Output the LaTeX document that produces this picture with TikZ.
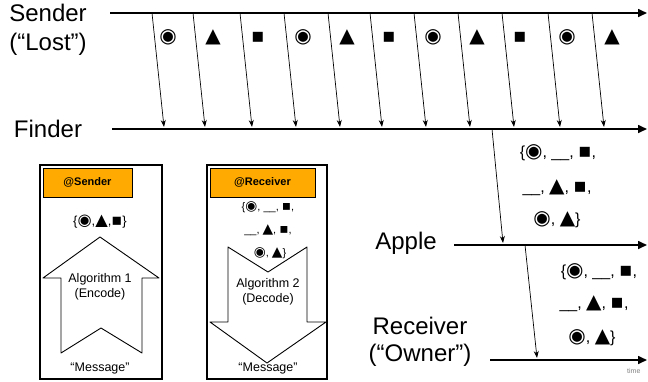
\documentclass[tikz,border=0pt]{standalone}
\usepackage{fontspec}
\setmainfont{Liberation Sans}
\newfontfamily\glyphfont{DejaVu Sans}[Scale=1.25]
\usetikzlibrary{arrows.meta}
\definecolor{hdrorange}{HTML}{FFAA00}

\tikzstyle{obj1}=[black, line width = 0.7pt, line join=round, line cap=round]
\tikzstyle{axis}=[black, line width = 1.6pt, -{Triangle[length=9pt, width=8pt]}]
\tikzstyle{msg}=[obj1, -{Stealth[length=7pt, width=5pt]}]

\begin{document}
\begin{tikzpicture}[
	x=1pt, y=-1pt,
	lab/.style={font=\fontsize{24}{29}\selectfont, align=center, inner sep=0pt},
	small/.style={font=\fontsize{12.5}{15}\selectfont, align=center, inner sep=0pt},
	setline/.style={font=\fontsize{16}{18}\selectfont, inner sep=0pt},
	hdr/.style={draw, line width=0.6pt, fill=hdrorange, minimum height=29pt, inner sep=0pt, font=\bfseries\fontsize{11}{13}\selectfont},
	frame/.style={black, line width=2.2pt},
	blockarrow/.style={obj1, line width=0.9pt, fill=white}
	]
	
	\useasboundingbox (0,0) rectangle (648,381);
	
	\def\bull{{\glyphfont ◉}}
	\def\tri{{\glyphfont ▲}}
	\def\sqr{{\glyphfont ▪}}
	\def\gap{\_\_}
	
	% Time lines of the four parties
	\node[lab] (sender) at (48,30) {Sender\\(“Lost”)};
	\node[lab] (finder) at (48,129) {Finder};
	\node[lab] (apple) at (406,243) {Apple};
	\node[lab, font=\fontsize{24}{27}\selectfont] (receiver) at (420,342) {Receiver\\(“Owner”)};
	
	\coordinate (s0) at (110,13);   \coordinate (s1) at (647,13);
	\coordinate (f0) at (112,129);  \coordinate (f1) at (647,129);
	\coordinate (a0) at (454,245);  \coordinate (a1) at (647,245);
	\coordinate (r0) at (490,360);  \coordinate (r1) at (647,360);
	
	\draw[axis] (s0) -- (s1);
	\draw[axis] (f0) -- (f1);
	\draw[axis] (a0) -- (a1);
	\draw[axis] (r0) -- (r1);
	
	\node[font=\fontsize{7}{8}\selectfont, text=gray, anchor=west, inner sep=0pt] (time) at (627,371) {time};
	
	% Broadcasts from sender to finder
	\foreach \t [count=\i] in {152,193,240,284,328,370,414,458,502,548,592} {
		\coordinate (top\i) at (\t,13);
		\coordinate (bot\i) at (\t+12,127);
		\draw[msg] (top\i) -- (bot\i);
	}
	
	\foreach \x/\s [count=\i] in {168/\bull, 213/\tri, 258/\sqr, 303/\bull, 347/\tri, 389/\sqr, 433/\bull, 477/\tri, 520/\sqr, 567/\bull, 612/\tri} {
		\node[font=\fontsize{16}{18}\selectfont, inner sep=0pt] (sym\i) at (\x,37) {\s};
	}
	
	% Finder -> Apple -> Receiver
	\coordinate (up1) at (492,129);  \coordinate (dn1) at (503,243);
	\coordinate (up2) at (525,245);  \coordinate (dn2) at (537,358);
	\draw[msg] (up1) -- (dn1);
	\draw[msg] (up2) -- (dn2);
	
	\node[setline] (fa1) at (558,153) {\{\bull, \gap, \sqr,};
	\node[setline] (fa2) at (557,188) {\gap, \tri, \sqr,};
	\node[setline] (fa3) at (557,220) {\bull, \tri\}};
	
	\node[setline] (ar1) at (599,272) {\{\bull, \gap, \sqr,};
	\node[setline] (ar2) at (594,304) {\gap, \tri, \sqr,};
	\node[setline] (ar3) at (592,338) {\bull, \tri\}};
	
	% Encoding at the sender
	\draw[frame] (40,165) rectangle (162,379);
	\node[hdr, minimum width=89pt] (encHdr) at (87.5,182.5) {@Sender};
	\node[small, font=\fontsize{13}{15}\selectfont] (encSet) at (100,222) {\{\bull,\tri,\sqr\}};
	\draw[blockarrow] (100,237) -- (159,278) -- (142,278) -- (142,353) -- (101,328) -- (61,353) -- (61,278) -- (43,278) -- cycle;
	\node[small] (encAlg) at (100,287) {Algorithm 1\\(Encode)};
	\node[small] (encMsg) at (100,368) {“Message"};
	
	% Decoding at the receiver
	\draw[frame] (207,165) rectangle (327,379);
	\node[hdr, minimum width=105pt] (decHdr) at (262.5,182.5) {@Receiver};
	\draw[blockarrow] (228,247) -- (268,272) -- (307,247) -- (307,322) -- (326,322) -- (267,363) -- (210,322) -- (228,322) -- cycle;
	\node[small, font=\fontsize{11}{13}\selectfont] (decSet1) at (268,207) {\{\bull, \gap, \sqr,};
	\node[small, font=\fontsize{11}{13}\selectfont] (decSet2) at (268,230) {\gap, \tri, \sqr,};
	\node[small, font=\fontsize{11}{13}\selectfont] (decSet3) at (270,253) {\bull, \tri\}};
	\node[small] (decAlg) at (268,292) {Algorithm 2\\(Decode)};
	\node[small] (decMsg) at (268,368) {“Message"};
	
\end{tikzpicture}
\end{document}
